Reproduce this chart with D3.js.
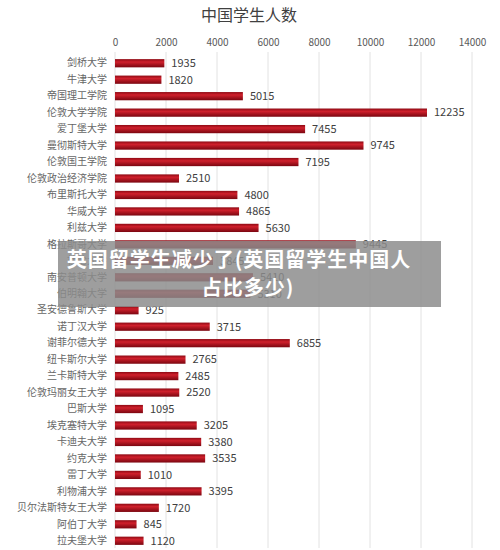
<!DOCTYPE html>
<html><head><meta charset="utf-8">
<script src="https://cdn.jsdelivr.net/npm/d3@7"></script>
<style>body{margin:0;background:#fff}svg{display:block}</style>
</head><body>
<script>
const categories = ["剑桥大学","牛津大学","帝国理工学院","伦敦大学学院","爱丁堡大学","曼彻斯特大学","伦敦国王学院","伦敦政治经济学院","布里斯托大学","华威大学","利兹大学","格拉斯哥大学","杜伦大学","南安普顿大学","伯明翰大学","圣安德鲁斯大学","诺丁汉大学","谢菲尔德大学","纽卡斯尔大学","兰卡斯特大学","伦敦玛丽女王大学","巴斯大学","埃克塞特大学","卡迪夫大学","约克大学","雷丁大学","利物浦大学","贝尔法斯特女王大学","阿伯丁大学","拉夫堡大学"];
const values = [1935,1820,5015,12235,7455,9745,7195,2510,4800,4865,5630,9445,3845,5410,5310,925,3715,6855,2765,2485,2520,1095,3205,3380,3535,1010,3395,1720,845,1120];
const tickValues = [0,2000,4000,6000,8000,10000,12000,14000];
const title = "中国学生人数";
const overlayLines = ["英国留学生减少了(英国留学生中国人","占比多少)"];

const W=500,H=550;
const svg=d3.select("body").append("svg").attr("width",W).attr("height",H);
const defs=svg.append("defs");
const g=defs.append("linearGradient").attr("id","bar").attr("x1",0).attr("y1",0).attr("x2",0).attr("y2",1);
g.append("stop").attr("offset","0%").attr("stop-color","#8e0a14");
g.append("stop").attr("offset","35%").attr("stop-color","#d0202c");
g.append("stop").attr("offset","100%").attr("stop-color","#7a0610");

const x=d3.scaleLinear().domain([0,14000]).range([115,472]);
const y=d3.scaleBand().domain(categories).range([55,549]).paddingInner(0.5).paddingOuter(0.25);

const font="'Noto Sans CJK SC','Noto Sans',sans-serif";

svg.append("text").attr("x",249).attr("y",21).attr("text-anchor","middle")
  .attr("font-family",font).attr("font-size",16).attr("fill","#404040").text(title);

// grid
svg.append("g").selectAll("line").data(tickValues).join("line")
  .attr("x1",d=>x(d)).attr("x2",d=>x(d)).attr("y1",52).attr("y2",548)
  .attr("stroke","#e2e2e2").attr("stroke-width",1);

// top axis
const ax=svg.append("g").attr("transform","translate(0,50)")
  .call(d3.axisTop(x).tickValues(tickValues).tickSize(0).tickPadding(4).tickFormat(d3.format("d")));
ax.select(".domain").remove();
ax.selectAll("text").attr("font-family",font).attr("font-size",10).attr("fill","#595959");

// bars
svg.append("g").selectAll("rect").data(values).join("rect")
  .attr("x",x(0)).attr("y",(d,i)=>y(categories[i]))
  .attr("width",d=>x(d)-x(0)).attr("height",y.bandwidth())
  .attr("fill","url(#bar)");

// value labels
svg.append("g").selectAll("text").data(values).join("text")
  .attr("x",d=>x(d)+7).attr("y",(d,i)=>y(categories[i])+y.bandwidth()/2)
  .attr("dy","0.35em").attr("font-family",font).attr("font-size",11).attr("fill","#404040")
  .text(d=>d);

// category labels
const ay=svg.append("g").attr("transform","translate(115,0)")
  .call(d3.axisLeft(y).tickSize(0).tickPadding(8));
ay.select(".domain").remove();
ay.selectAll("text").attr("font-family",font).attr("font-size",10).attr("fill","#666");

// overlay
svg.append("rect").attr("x",58).attr("y",241).attr("width",383).attr("height",66)
  .attr("fill","rgba(140,140,140,0.84)");
svg.append("g").selectAll("text").data(overlayLines).join("text")
  .attr("x",(d,i)=>i===0?239:248).attr("y",(d,i)=>267+i*28).attr("text-anchor","middle")
  .attr("font-family",font).attr("font-weight",700).attr("font-size",20).attr("letter-spacing",1)
  .attr("fill","#fff")
  .text(d=>d);
</script>
</body></html>
